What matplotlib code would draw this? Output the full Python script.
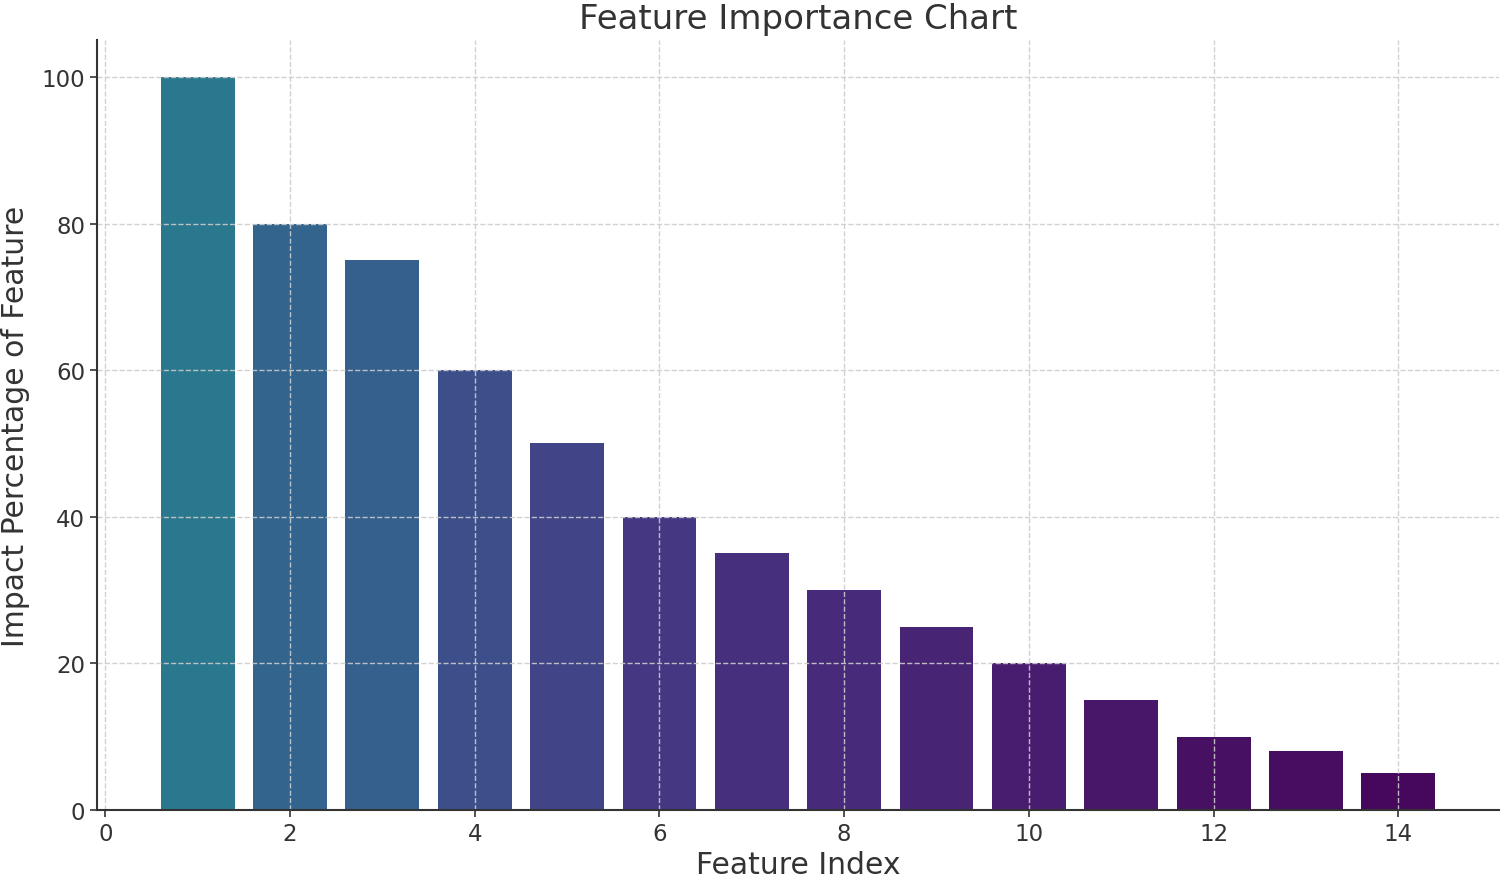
import numpy as np
import matplotlib
matplotlib.use("Agg")
from matplotlib import pyplot as plt

# feature index and impact (%)
feature_index = np.arange(1, 15)
impact = np.array([100, 80, 75, 60, 50, 40, 35, 30, 25, 20, 15, 10, 8, 5])

plt.rcParams['font.family'] = ['DejaVu Sans']

fig = plt.figure(figsize=(15.02, 8.78), dpi=100)
ax = fig.add_axes([0.0646, 0.0763, 0.9334, 0.8767])

colors = plt.cm.viridis(impact / 250)
ax.bar(feature_index, impact, width=0.8, color=colors)

ax.set_title("Feature Importance Chart", fontsize=24.5, color="#333333", pad=9)
ax.set_xlabel("Feature Index", fontsize=21.5, color="#333333", labelpad=4)
ax.set_ylabel("Impact Percentage of Feature", fontsize=21.5, color="#333333", labelpad=8)

ax.tick_params(labelsize=16.5, colors="#333333", length=5, width=1.2)
ax.grid(True, linestyle="--", color="#cccccc", linewidth=1, alpha=0.9)

for s in ["top", "right"]:
    ax.spines[s].set_visible(False)
for s in ["left", "bottom"]:
    ax.spines[s].set_color("#333333")
    ax.spines[s].set_linewidth(1.5)

fig.savefig("out.png", dpi=100)
